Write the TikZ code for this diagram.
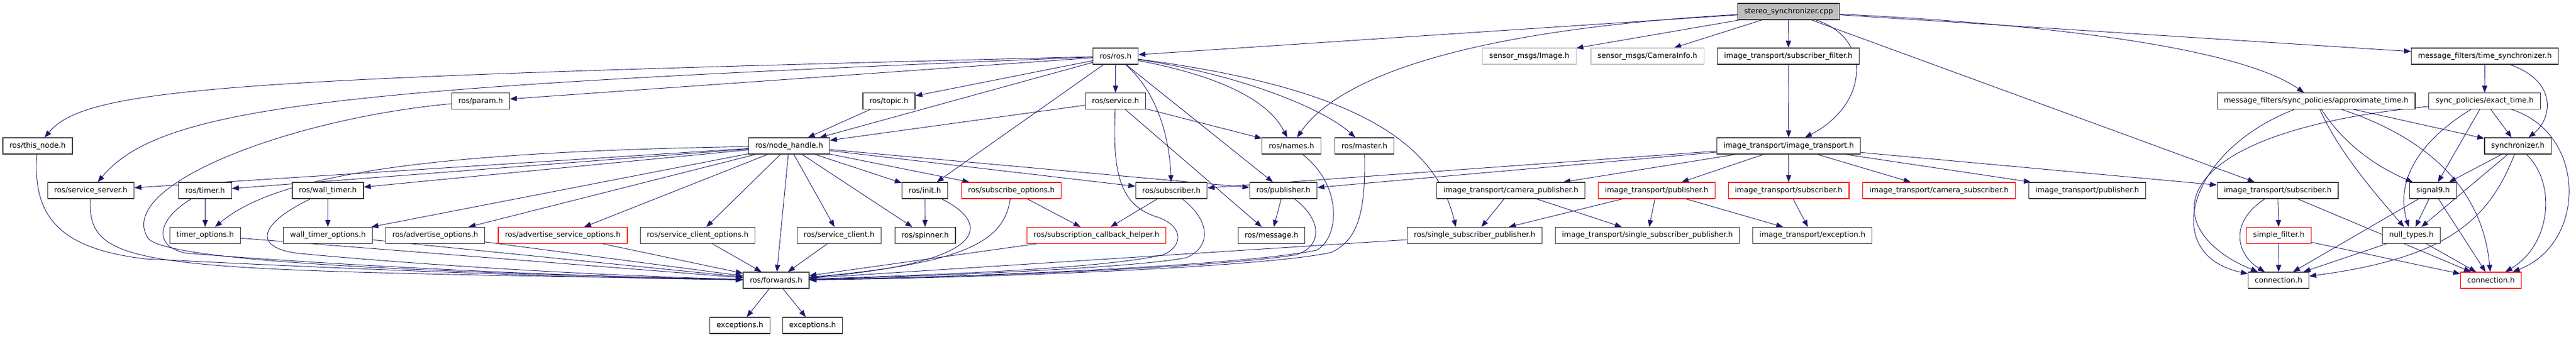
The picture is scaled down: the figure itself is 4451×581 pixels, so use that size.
\documentclass[tikz,border=0pt]{standalone}
\usepackage{fontspec}
\setmainfont{DejaVu Sans}
\usetikzlibrary{arrows.meta,backgrounds}
\definecolor{edgeblue}{RGB}{25,25,112}
\begin{document}
\begin{tikzpicture}[x=1pt,y=1pt]
\tikzstyle{every node}+=[inner xsep=11.5pt,inner ysep=0pt,minimum height=28pt,font=\fontsize{12.7}{15}\selectfont,draw=black!80,fill=white,line width=1.1pt]
\tikzstyle{hdrred}=[draw=red]
\tikzstyle{hdrgray}=[draw=black!25]
\tikzstyle{hdrroot}=[fill=black!25]
\tikzstyle{dep}=[draw=edgeblue,line width=0.9pt,-{Triangle[length=12pt,width=9pt]}]
\useasboundingbox (0,0) rectangle (4451,-581);

\node[hdrroot] (stereo) at (3090.5,-20) {stereo\_synchronizer.cpp};

\node (ros) at (1927.5,-97) {ros/ros.h};
\node[hdrgray] (img) at (2642.5,-97) {sensor\_msgs/Image.h};
\node[hdrgray] (caminfo) at (2846.5,-97) {sensor\_msgs/CameraInfo.h};
\node (subfilt) at (3090,-97) {image\_transport/subscriber\_filter.h};
\node (timesync) at (4293.5,-97) {message\_filters/time\_synchronizer.h};

\node (param) at (830.5,-174.5) {ros/param.h};
\node (topic) at (1536,-174.5) {ros/topic.h};
\node (service) at (1927.5,-174.5) {ros/service.h};
\node (approx) at (4002,-174.5) {message\_filters/sync\_policies/approximate\_time.h};
\node (exact) at (4293,-174.5) {sync\_policies/exact\_time.h};

\node (thisnode) at (65,-252) {ros/this\_node.h};
\node (nh) at (1363.5,-252) {ros/node\_handle.h};
\node (names) at (2231.5,-252) {ros/names.h};
\node (master) at (2357.5,-252) {ros/master.h};
\node (itr) at (3090.5,-252) {image\_transport/image\_transport.h};
\node (sync) at (4350.5,-252) {synchronizer.h};

\node (srvserver) at (157,-329) {ros/service\_server.h};
\node (timer) at (354.5,-329) {ros/timer.h};
\node (walltimer) at (566.5,-329) {ros/wall\_timer.h};
\node (init) at (1598,-329) {ros/init.h};
\node[hdrred] (subopts) at (1747.5,-329) {ros/subscribe\_options.h};
\node (sub) at (2024,-329) {ros/subscriber.h};
\node (pub) at (2217.5,-329) {ros/publisher.h};
\node (campub) at (2610.5,-329) {image\_transport/camera\_publisher.h};
\node[hdrred] (itpubr) at (2862.5,-329) {image\_transport/publisher.h};
\node[hdrred] (itsubr) at (3090.5,-329) {image\_transport/subscriber.h};
\node[hdrred] (camsub) at (3350.5,-329) {image\_transport/camera\_subscriber.h};
\node (itpub) at (3606.5,-329) {image\_transport/publisher.h};
\node (itsub) at (3935.5,-329) {image\_transport/subscriber.h};
\node (signal) at (4204,-329) {signal9.h};

\node (timeropts) at (354.5,-406.5) {timer\_options.h};
\node (wtopts) at (566.5,-406.5) {wall\_timer\_options.h};
\node (advopts) at (752,-406.5) {ros/advertise\_options.h};
\node[hdrred] (advsrvopts) at (972.5,-406.5) {ros/advertise\_service\_options.h};
\node (scopts) at (1205.5,-406.5) {ros/service\_client\_options.h};
\node (sclient) at (1450,-406.5) {ros/service\_client.h};
\node (spinner) at (1598.5,-406.5) {ros/spinner.h};
\node[hdrred] (cbhelper) at (1894.5,-406.5) {ros/subscription\_callback\_helper.h};
\node (message) at (2197,-406.5) {ros/message.h};
\node (rssp) at (2548,-406.5) {ros/single\_subscriber\_publisher.h};
\node (itssp) at (2846.5,-406.5) {image\_transport/single\_subscriber\_publisher.h};
\node (itexc) at (3131.5,-406.5) {image\_transport/exception.h};
\node[hdrred] (simplef) at (3937.5,-406.5) {simple\_filter.h};
\node (nulltypes) at (4166.5,-406.5) {null\_types.h};

\node (fwd) at (1341,-484) {ros/forwards.h};
\node (conn) at (3937,-484) {connection.h};
\node[hdrred] (connr) at (4304,-484) {connection.h};

\node (exc1) at (1278.5,-562) {exceptions.h};
\node (exc2) at (1404,-562) {exceptions.h};

\begin{pgfonlayer}{background}
\draw[dep] (stereo) -- (ros);
\draw[dep] (stereo) .. controls (2480,-55) and (2300,-150) .. (names);
\draw[dep] (stereo) -- (img);
\draw[dep] (stereo) -- (caminfo);
\draw[dep] (stereo) -- (subfilt);
\draw[dep] (stereo) .. controls (3235,-65) and (3230,-180) .. (itr);
\draw[dep] (stereo) -- (itsub);
\draw[dep] (stereo) .. controls (3600,-45) and (3880,-90) .. (approx);
\draw[dep] (stereo) -- (timesync);
\draw[dep] (subfilt) -- (itr);

\draw[dep] (ros) .. controls (400,-135) and (150,-150) .. (thisnode);
\draw[dep] (ros) .. controls (600,-150) and (280,-180) .. (srvserver);
\draw[dep] (ros) -- (param);
\draw[dep] (ros) -- (topic);
\draw[dep] (ros) -- (nh);
\draw[dep] (ros) -- (service);
\draw[dep] (ros) -- (init);
\draw[dep] (ros) .. controls (1990,-150) and (2020,-220) .. (sub);
\draw[dep] (ros) -- (pub);
\draw[dep] (ros) .. controls (2100,-130) and (2190,-170) .. (names);
\draw[dep] (ros) .. controls (2150,-130) and (2290,-190) .. (master);
\draw[dep] (ros) .. controls (2330,-150) and (2480,-240) .. (rssp.156);

\draw[dep] (service) -- (nh);
\draw[dep] (service) -- (names);
\draw[dep] (service) -- (message);
\draw[dep] (service) .. controls (1922,-300) and (1935,-355) .. (2000,-375) .. controls (2045,-390) and (2045,-425) .. (2010,-440) .. controls (1900,-465) and (1600,-475) .. (fwd);
\draw[dep] (topic) -- (nh);
\draw[dep] (param) .. controls (500,-205) and (200,-320) .. (255,-410) .. controls (275,-450) and (700,-470) .. (fwd);
\draw[dep] (thisnode) .. controls (55,-380) and (110,-430) .. (250,-447) .. controls (600,-465) and (1000,-480) .. (fwd);
\draw[dep] (srvserver) .. controls (150,-470) and (250,-465) .. (fwd);
\draw[dep] (timer) -- (timeropts);
\draw[dep] (timer) .. controls (270,-380) and (265,-425) .. (320,-437) .. controls (600,-460) and (1000,-478) .. (fwd);
\draw[dep] (timeropts) -- (fwd);
\draw[dep] (walltimer) -- (wtopts);
\draw[dep] (walltimer) .. controls (440,-390) and (440,-430) .. (520,-438) .. controls (700,-455) and (1000,-475) .. (fwd);
\draw[dep] (wtopts) -- (fwd);
\draw[dep] (advopts) -- (fwd);
\draw[dep] (advsrvopts) -- (fwd);
\draw[dep] (scopts) -- (fwd);
\draw[dep] (sclient) -- (fwd);

\draw[dep] (nh) -- (srvserver);
\draw[dep] (nh) -- (timer);
\draw[dep] (nh) .. controls (750,-262) and (480,-300) .. (timeropts);
\draw[dep] (nh) -- (walltimer);
\draw[dep] (nh) -- (wtopts);
\draw[dep] (nh) -- (advopts);
\draw[dep] (nh) -- (advsrvopts);
\draw[dep] (nh) -- (scopts);
\draw[dep] (nh) -- (sclient);
\draw[dep] (nh) -- (fwd);
\draw[dep] (nh) -- (spinner);
\draw[dep] (nh) -- (init);
\draw[dep] (nh) -- (subopts);
\draw[dep] (nh) -- (sub);
\draw[dep] (nh) -- (pub);

\draw[dep] (init) -- (spinner);
\draw[dep] (init) .. controls (1720,-390) and (1700,-455) .. (fwd);
\draw[dep] (subopts) -- (cbhelper);
\draw[dep] (subopts) .. controls (1735,-420) and (1660,-455) .. (fwd);
\draw[dep] (cbhelper) -- (fwd);
\draw[dep] (sub) -- (cbhelper);
\draw[dep] (sub) .. controls (2090,-380) and (2095,-425) .. (2050,-445) .. controls (1950,-464) and (1600,-477) .. (fwd);
\draw[dep] (pub) -- (message);
\draw[dep] (pub) .. controls (2285,-380) and (2285,-425) .. (2240,-440) .. controls (2100,-462) and (1700,-478) .. (fwd);
\draw[dep] (names) .. controls (2320,-320) and (2315,-410) .. (2275,-432) .. controls (2150,-458) and (1700,-478) .. (fwd);
\draw[dep] (master) .. controls (2360,-370) and (2345,-415) .. (2300,-436) .. controls (2180,-462) and (1700,-480) .. (fwd);
\draw[dep] (rssp) -- (fwd);
\draw[dep] (fwd) -- (exc1);
\draw[dep] (fwd) -- (exc2);

\draw[dep] (itr) -- (sub);
\draw[dep] (itr) -- (pub);
\draw[dep] (itr) -- (campub);
\draw[dep] (itr) -- (itpubr);
\draw[dep] (itr) -- (itsubr);
\draw[dep] (itr) -- (camsub);
\draw[dep] (itr) -- (itpub);
\draw[dep] (itr) -- (itsub);
\draw[dep] (campub) -- (rssp);
\draw[dep] (campub) -- (itssp);
\draw[dep] (itpubr) -- (rssp);
\draw[dep] (itpubr) -- (itssp);
\draw[dep] (itpubr) -- (itexc);
\draw[dep] (itsubr) -- (itexc);

\draw[dep] (timesync) -- (exact);
\draw[dep] (timesync) .. controls (4420,-140) and (4410,-205) .. (sync);
\draw[dep] (approx) .. controls (3780,-260) and (3730,-440) .. (conn);
\draw[dep] (approx) .. controls (4040,-260) and (4100,-330) .. (nulltypes);
\draw[dep] (approx) .. controls (4050,-250) and (4110,-290) .. (signal);
\draw[dep] (approx) .. controls (4200,-240) and (4290,-330) .. (connr);
\draw[dep] (approx) -- (sync);
\draw[dep] (exact) .. controls (3720,-230) and (3730,-400) .. (conn);
\draw[dep] (exact) .. controls (4170,-250) and (4140,-320) .. (nulltypes);
\draw[dep] (exact) -- (signal);
\draw[dep] (exact) -- (sync);
\draw[dep] (exact) .. controls (4470,-230) and (4470,-420) .. (connr);
\draw[dep] (sync) -- (signal);
\draw[dep] (sync) -- (nulltypes);
\draw[dep] (sync) .. controls (4300,-380) and (4230,-445) .. (conn);
\draw[dep] (sync) .. controls (4420,-320) and (4405,-425) .. (connr);
\draw[dep] (signal) -- (conn);
\draw[dep] (signal) -- (nulltypes);
\draw[dep] (signal) -- (connr);
\draw[dep] (nulltypes) -- (conn);
\draw[dep] (nulltypes) -- (connr);
\draw[dep] (itsub) -- (simplef);
\draw[dep] (itsub) .. controls (3850,-385) and (3865,-440) .. (conn);
\draw[dep] (itsub) -- (connr);
\draw[dep] (simplef) -- (conn);
\draw[dep] (simplef) -- (connr);
\end{pgfonlayer}
\end{tikzpicture}
\end{document}
